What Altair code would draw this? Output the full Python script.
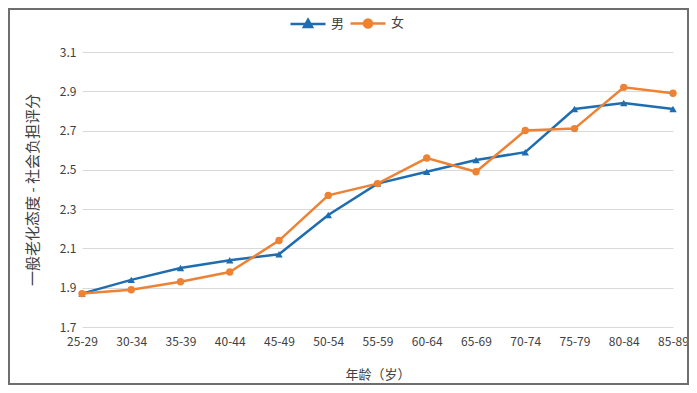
import altair as alt
import pandas as pd

ages = ["25-29", "30-34", "35-39", "40-44", "45-49", "50-54", "55-59",
        "60-64", "65-69", "70-74", "75-79", "80-84", "85-89"]
male = [1.87, 1.94, 2.00, 2.04, 2.07, 2.27, 2.43, 2.49, 2.55, 2.59, 2.81, 2.84, 2.81]
female = [1.87, 1.89, 1.93, 1.98, 2.14, 2.37, 2.43, 2.56, 2.49, 2.70, 2.71, 2.92, 2.89]
series = ["男", "女"]
colors = ["#1F6DB1", "#EE8234"]
y_ticks = [1.7, 1.9, 2.1, 2.3, 2.5, 2.7, 2.9, 3.1]

rows = []
for a, m, f in zip(ages, male, female):
    rows.append({"age": a, "sex": series[0], "score": m})
    rows.append({"age": a, "sex": series[1], "score": f})
df = pd.DataFrame(rows)

W, H = 591, 275
PAD_L, PAD_R, PAD_T, PAD_B = 74, 16, 44, 58
FONT = "Noto Sans CJK SC"

x = alt.X("age:O", sort=ages,
          scale=alt.Scale(type="point", padding=0),
          axis=alt.Axis(title="年龄（岁）", labelAngle=0, domain=False, ticks=False,
                        grid=False, labelPadding=9, titlePadding=21,
                        labelFontSize=12, titleFontSize=13))
y = alt.Y("score:Q", scale=alt.Scale(domain=[1.7, 3.1], nice=False, zero=False),
          axis=alt.Axis(title="一般老化态度 - 社会负担评分", values=y_ticks, format=".1f",
                        domain=False, ticks=False, labelPadding=6, titlePadding=19,
                        gridColor="#d9d9d9", labelFontSize=12, titleFontSize=15))
color_scale = alt.Scale(domain=series, range=colors)

sym_m = "M-2,0L2,0M0,-0.5L0.46,0.32L-0.46,0.32Z"
sym_f = "M-2,0L2,0M0.46,0A0.46,0.46 0 1,1 -0.46,0A0.46,0.46 0 1,1 0.46,0Z"

lines = alt.Chart(df).mark_line(strokeWidth=2.5).encode(
    x=x, y=y,
    color=alt.Color("sex:N", scale=color_scale, sort=series, legend=None),
    detail="sex:N",
)

points = alt.Chart(df).mark_point(filled=True, size=55, opacity=1).encode(
    x=x, y=y,
    color=alt.Color("sex:N", scale=color_scale, sort=series, legend=None),
    shape=alt.Shape("sex:N", scale=alt.Scale(domain=series, range=["triangle-up", "circle"]),
                    legend=None),
)

leg = alt.Legend(title=None, orient="none", direction="horizontal",
                 legendX=216, legendY=-39, symbolSize=306, symbolStrokeWidth=2.5,
                 symbolOpacity=1, labelFontSize=13, labelFont=FONT,
                 columnPadding=0, labelOffset=13)

legend_layer = alt.Chart(df).mark_point(filled=True, opacity=0, strokeWidth=2.5).encode(
    x=x, y=y,
    color=alt.Color("sex:N", scale=color_scale, sort=series, legend=leg),
    stroke=alt.Stroke("sex:N", scale=color_scale, sort=series, legend=leg),
    shape=alt.Shape("sex:N", scale=alt.Scale(domain=series, range=[sym_m, sym_f]),
                    sort=series, legend=leg),
)

frame = alt.Chart(pd.DataFrame({"k": [0]})).mark_rect(
    fill=None, stroke="#6e6e6e", strokeWidth=2, clip=False
).encode(
    x=alt.value(-PAD_L + 1), x2=alt.value(W + PAD_R - 1),
    y=alt.value(-PAD_T + 1), y2=alt.value(H + PAD_B - 1),
)

chart = alt.layer(frame, lines, points, legend_layer).resolve_scale(
    color="independent", shape="independent", stroke="independent"
).properties(
    width=W, height=H,
    padding={"left": PAD_L, "top": PAD_T, "right": PAD_R, "bottom": PAD_B},
    autosize=alt.AutoSizeParams(type="none"),
).configure(font=FONT).configure_axis(
    labelColor="#404040", titleColor="#404040", labelFont=FONT, titleFont=FONT,
    titleFontWeight="normal",
).configure_legend(labelColor="#404040").configure_view(stroke=None)

chart.save("out.html", embed_options={"renderer": "svg", "actions": False})
